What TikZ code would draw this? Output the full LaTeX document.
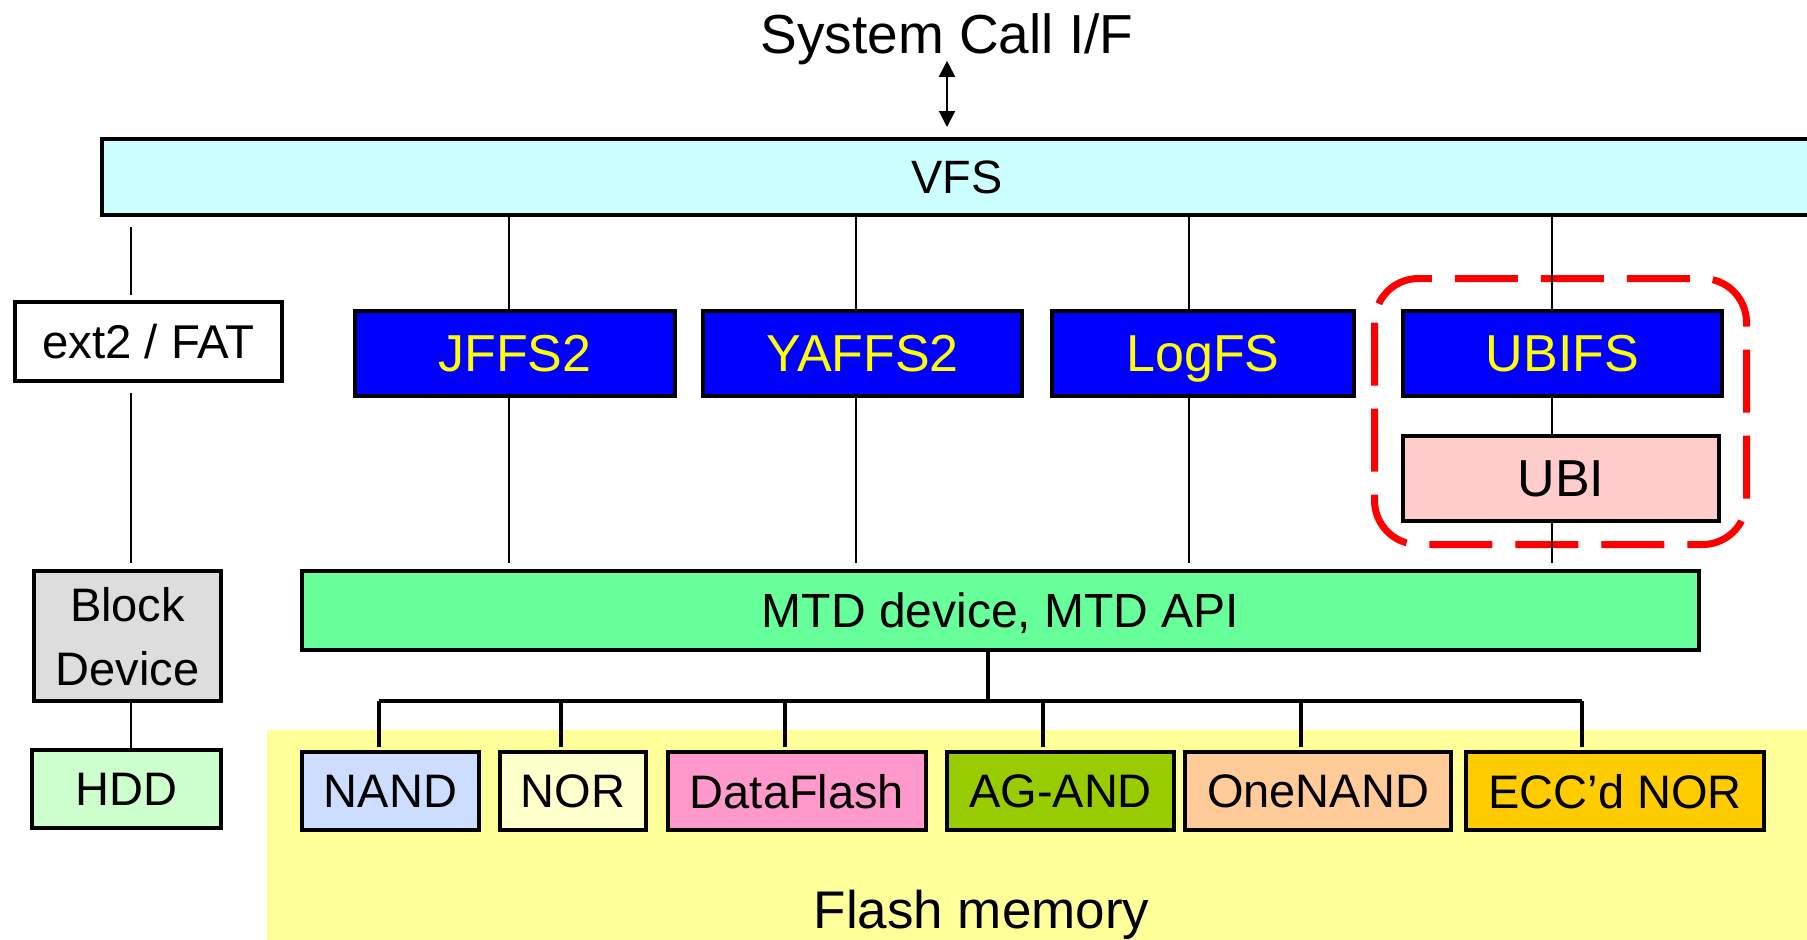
\documentclass[tikz,border=0pt]{standalone}
\usepackage{fontspec}
\setmainfont{Liberation Sans}
\usetikzlibrary{arrows.meta}
\definecolor{vfsc}{HTML}{CCFFFF}
\definecolor{fsblue}{HTML}{0000FF}
\definecolor{fsyellow}{HTML}{FFFF00}
\definecolor{ubic}{HTML}{FFCCCC}
\definecolor{mtdc}{HTML}{66FF99}
\definecolor{blkc}{HTML}{DDDDDD}
\definecolor{hddc}{HTML}{CCFFCC}
\definecolor{flashbg}{HTML}{FFFF99}
\definecolor{nandc}{HTML}{CCDDFF}
\definecolor{norc}{HTML}{FFFFCC}
\definecolor{dfc}{HTML}{FF99CC}
\definecolor{agc}{HTML}{99CC00}
\definecolor{onc}{HTML}{FFCC99}
\definecolor{eccc}{HTML}{FFCC00}
\definecolor{redc}{HTML}{FF0000}
\begin{document}
\begin{tikzpicture}[x=0.5pt,y=-0.5pt,
  box/.style={draw=black, line width=2pt, inner sep=0pt, text depth=0pt},
  sz/.style 2 args={minimum width=#1*0.5pt, minimum height=#2*0.5pt},
  fsbox/.style={box, fill=fsblue, text=fsyellow, font=\fontsize{26}{31}\selectfont},
  chip/.style={box, font=\fontsize{23.5}{28}\selectfont},
  conn/.style={line width=1.25pt},
  bus/.style={line width=1.6pt},
  ubiframe/.style={draw=redc, line width=3.5pt, rounded corners=22pt, dash pattern=on 31.5pt off 11.5pt},
]
\useasboundingbox (0,0) rectangle (1807,939);
% flash memory background
\fill[flashbg] (267,730) rectangle (1815,945);
\node[anchor=base, inner sep=0pt, font=\fontsize{26.5}{32}\selectfont] (flashlbl) at (981.5,928) {Flash memory};
% UBI group frame
\draw[ubiframe] (1374.5,278.5) rectangle (1746.5,544.5);
% title
\node[anchor=base, inner sep=0pt, font=\fontsize{27.5}{33}\selectfont] (sys) at (947,53) {System Call I/F};
% boxes
\node[box, fill=vfsc, sz={1710}{76}, font=\fontsize{23.4}{28}\selectfont] (vfs) at (957,177) {VFS};
\node[box, fill=white, sz={267}{79}, font=\fontsize{23.7}{28}\selectfont] (ext) at (148.5,341.5) {ext2 / FAT};
\node[fsbox, sz={320}{85}] (jffs) at (515,353.5) {JFFS2};
\node[fsbox, sz={319}{85}] (yaffs) at (862.5,353.5) {YAFFS2};
\node[fsbox, sz={302}{85}] (logfs) at (1203,353.5) {LogFS};
\node[fsbox, sz={319}{85}] (ubifs) at (1562.5,353.5) {UBIFS};
\node[box, fill=ubic, sz={316}{85}, font=\fontsize{26}{31}\selectfont] (ubi) at (1561,478.5) {UBI};
\node[box, fill=mtdc, sz={1397}{79}, font=\fontsize{24}{29}\selectfont] (mtd) at (1000.5,610.5) {MTD device, MTD API};
\node[box, fill=blkc, sz={187}{130}, align=center, font=\fontsize{23.5}{32}\selectfont] (blk) at (127.5,636) {Block\\Device};
\node[chip, fill=hddc, sz={189}{78}] (hdd) at (126.5,789) {HDD};
\node[chip, fill=nandc, sz={177}{78}] (nand) at (390.5,791) {NAND};
\node[chip, fill=norc, sz={146}{78}] (nor) at (573,791) {NOR};
\node[chip, fill=dfc, sz={258}{78}] (df) at (797,791) {DataFlash};
\node[chip, fill=agc, sz={227}{78}] (ag) at (1060.5,791) {AG-AND};
\node[chip, fill=onc, sz={266}{78}] (one) at (1318,791) {OneNAND};
\node[chip, fill=eccc, sz={298}{78}] (ecc) at (1615,791) {ECC’d NOR};
% connector x positions
\coordinate (cx0) at (131,0);
\coordinate (cx1) at (509,0);
\coordinate (cx2) at (856,0);
\coordinate (cx3) at (1189,0);
\coordinate (cx4) at (1552,0);
% system call arrow
\draw[line width=1pt, {Triangle[width=8pt,length=8pt]}-{Triangle[width=8pt,length=8pt]}, shorten <=-2pt, shorten >=5pt] (sys.south) -- (sys.south |- vfs.north);
% ext2 / block path
\draw[conn, shorten <=5pt, shorten >=2.5pt] (cx0 |- vfs.south) -- (cx0 |- ext.north);
\draw[conn, shorten <=5pt, shorten >=3pt] (cx0 |- ext.south) -- (cx0 |- blk.north);
\draw[conn] (cx0 |- blk.south) -- (cx0 |- hdd.north);
% flash file systems
\foreach \c/\n in {cx1/jffs, cx2/yaffs, cx3/logfs}{
  \draw[conn] (\c |- vfs.south) -- (\c |- \n.north);
  \draw[conn, shorten >=3pt] (\c |- \n.south) -- (\c |- mtd.north);
}
\draw[conn] (cx4 |- vfs.south) -- (cx4 |- ubifs.north);
\draw[conn] (cx4 |- ubifs.south) -- (cx4 |- ubi.north);
\draw[conn, shorten >=3pt] (cx4 |- ubi.south) -- (cx4 |- mtd.north);
% MTD bus
\coordinate (bj) at (988,701);
\coordinate (b1) at (379,701);
\coordinate (b2) at (561,701);
\coordinate (b3) at (785,701);
\coordinate (b4) at (1043,701);
\coordinate (b5) at (1301,701);
\coordinate (b6) at (1582,701);
\draw[bus] (bj |- mtd.south) -- (bj);
\draw[bus] (b1) -- (b6);
\foreach \b/\n in {b1/nand, b2/nor, b3/df, b4/ag, b5/one, b6/ecc}{
  \draw[bus, shorten >=1.5pt] (\b) -- (\b |- \n.north);
}
\end{tikzpicture}
\end{document}
